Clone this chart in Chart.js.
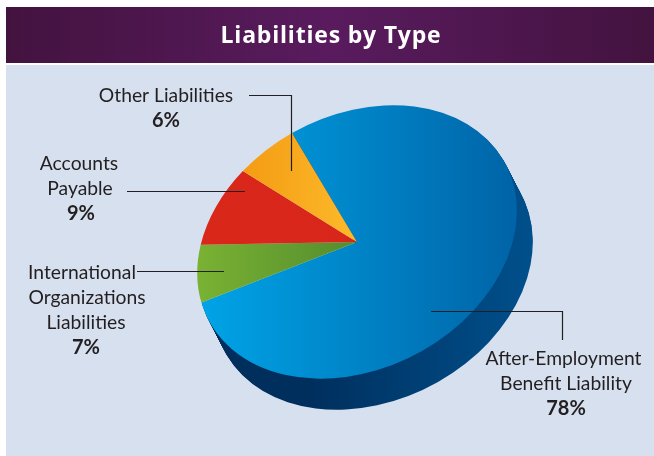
<!DOCTYPE html>
<html>
<head>
<meta charset="utf-8">
<title>Liabilities by Type</title>
<script src="https://cdn.jsdelivr.net/npm/chart.js@4/dist/chart.umd.min.js"></script>
<style>
  html, body { margin: 0; background: #fff; }
  canvas { display: block; }
</style>
</head>
<body>
<canvas id="myChart" width="654" height="456"></canvas>
<script>
const chartTitle = "Liabilities by Type";
const categories = ["After-Employment Benefit Liability", "International Organizations Liabilities", "Accounts Payable", "Other Liabilities"];
const shares = [78, 7, 9, 6];

// tilted ellipse of the top face: center and the matrix that bends the circle
const face = { x: 357, y: 242, a: 146, b: -82.5, c: 65, d: 109 };
// how far the side wall drops below the face
const drop = { x: 16, y: 31 };

const sliceGradients = [
  { from: 205, to: 510, stops: ["#00a3e6", "#0065a8"] },
  { from: 197, to: 357, stops: ["#7ab233", "#538c2e"] },
  { from: 200, to: 357, stops: ["#d9271a", "#d9261b"] },
  { from: 245, to: 357, stops: ["#f49c14", "#fdba2b"] },
];

// callouts: text lines (last one is the bold percent) and their leader lines
const callouts = [
  { slice: 3, lines: [["Other Liabilities", 166, 102]], pct: [166, 127], leader: [[249, 95.5], [291.5, 95.5], [291.5, 171]] },
  { slice: 2, lines: [["Accounts", 79, 170], ["Payable", 80, 195]], pct: [81, 220], leader: [[127, 191.5], [245, 191.5]] },
  { slice: 1, lines: [["International", 82, 279], ["Organizations", 87, 304], ["Liabilities", 86, 329]], pct: [86, 354], leader: [[137, 271.5], [224, 271.5]] },
  { slice: 0, lines: [["After-Employment", 563.5, 365], ["Benefit Liability", 566, 390]], pct: [566, 415], leader: [[431, 311.5], [562.5, 311.5], [562.5, 340]] },
];

function pieBox(chart) {
  const area = chart.chartArea;
  return {
    x: (area.left + area.right) / 2,
    y: (area.top + area.bottom) / 2,
    r: Math.min(area.right - area.left, area.bottom - area.top) / 2,
  };
}

// gradient that runs left to right on screen even though the arc is drawn bent
function flatGradient(chart, spec) {
  const box = pieBox(chart);
  const gx = face.a / box.r;
  const gy = face.c / box.r;
  const len = gx * gx + gy * gy;
  const s0 = (spec.from - face.x) / len;
  const s1 = (spec.to - face.x) / len;
  const grad = chart.ctx.createLinearGradient(box.x + gx * s0, box.y + gy * s0, box.x + gx * s1, box.y + gy * s1);
  grad.addColorStop(0, spec.stops[0]);
  grad.addColorStop(1, spec.stops[1]);
  return grad;
}

function applyFace(ctx, arc, dx, dy) {
  const r = arc.outerRadius;
  ctx.transform(face.a / r, face.b / r, face.c / r, face.d / r, face.x + dx, face.y + dy);
  ctx.translate(-arc.x, -arc.y);
}

const backdrop = {
  id: "backdrop",
  beforeDraw(chart) {
    const ctx = chart.ctx;
    ctx.fillStyle = "#d6e0ef";
    ctx.fillRect(6, 65, chart.width - 6, chart.height - 65);
    const band = ctx.createLinearGradient(6, 0, chart.width, 0);
    band.addColorStop(0, "#43133f");
    band.addColorStop(0.5, "#591b5e");
    band.addColorStop(1, "#43133f");
    ctx.fillStyle = band;
    ctx.fillRect(6, 7, chart.width - 6, 56);
    ctx.letterSpacing = "0.8px";
  },
};

// side wall plus the bent transform for the arcs
const tilt = {
  id: "tilt",
  beforeDatasetsDraw(chart) {
    const ctx = chart.ctx;
    const arc = chart.getDatasetMeta(0).data[0];
    const wall = ctx.createLinearGradient(310, 0, 533, 0);
    wall.addColorStop(0, "#002f5e");
    wall.addColorStop(1, "#00508c");
    ctx.save();
    ctx.fillStyle = wall;
    for (let i = drop.y; i > 0; i--) {
      ctx.save();
      applyFace(ctx, arc, drop.x * i / drop.y, i);
      ctx.beginPath();
      ctx.moveTo(arc.x, arc.y);
      ctx.arc(arc.x, arc.y, arc.outerRadius, arc.startAngle, arc.endAngle);
      ctx.closePath();
      ctx.restore();
      ctx.fill();
    }
    ctx.restore();
    ctx.save();
    applyFace(ctx, arc, 0, 0);
  },
  afterDatasetsDraw(chart) {
    chart.ctx.restore();
  },
};

const labels = {
  id: "labels",
  afterDraw(chart) {
    const ctx = chart.ctx;
    ctx.save();
    ctx.letterSpacing = "0px";
    ctx.strokeStyle = "#231f20";
    ctx.lineWidth = 1.2;
    ctx.fillStyle = "#231f20";
    ctx.textAlign = "center";
    ctx.textBaseline = "alphabetic";
    callouts.forEach(function (item) {
      ctx.beginPath();
      item.leader.forEach(function (p, i) {
        if (i === 0) ctx.moveTo(p[0], p[1]);
        else ctx.lineTo(p[0], p[1]);
      });
      ctx.stroke();
      ctx.font = "19.3px Lato";
      item.lines.forEach(function (line) {
        ctx.fillText(line[0], line[1], line[2]);
      });
      ctx.font = "bold 20px Lato";
      ctx.fillText(shares[item.slice] + "%", item.pct[0], item.pct[1]);
    });
    ctx.restore();
  },
};

const data = {
  labels: categories,
  datasets: [
    {
      data: shares,
      borderWidth: 0,
      clip: false,
      backgroundColor: function (context) {
        return flatGradient(context.chart, sliceGradients[context.dataIndex]);
      },
    },
  ],
};

const config = {
  type: "pie",
  data: data,
  plugins: [backdrop, tilt, labels],
  options: {
    responsive: false,
    animation: false,
    layout: { padding: { left: 8 } },
    plugins: {
      legend: false,
      tooltip: { enabled: false },
      title: {
        display: true,
        text: chartTitle,
        color: "#ffffff",
        font: { family: "'Open Sans'", size: 23, weight: "700" },
        padding: { top: 23, bottom: 0 },
      },
    },
  },
};

const myChart = new Chart(document.getElementById("myChart"), config);
</script>
</body>
</html>
